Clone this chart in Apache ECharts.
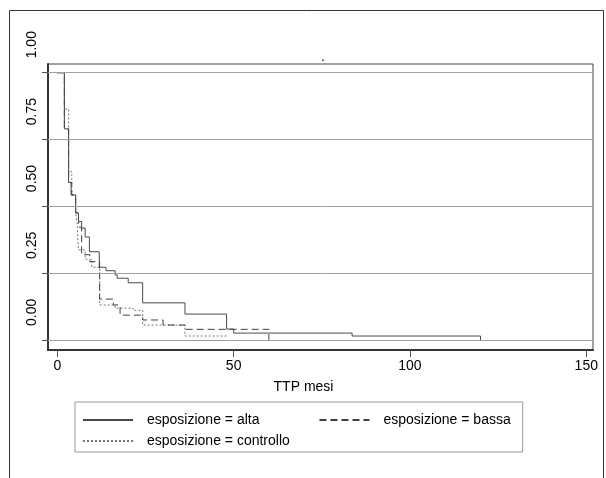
<!DOCTYPE html>
<html>
<head>
<meta charset="utf-8">
<script src="https://cdn.jsdelivr.net/npm/echarts@6/dist/echarts.min.js"></script>
<style>
html,body{margin:0;padding:0;background:#fff;}
#c{width:606px;height:478px;}
</style>
</head>
<body>
<div id="c"></div>
<script>
// ---- data (time in months, survival probability) ----
const seriesNames = ['esposizione = alta', 'esposizione = bassa', 'esposizione = controllo'];

const tAlta = [0, 2.0, 3.2, 3.9, 5.2, 6.0, 6.9, 7.9, 9.1, 11.9, 13.8, 16.4, 17.0, 20.1, 24.2, 36.2, 48.0, 50.0, 83.6, 120.0];
const vAlta = [1.0, 0.79, 0.59, 0.543, 0.476, 0.444, 0.419, 0.386, 0.331, 0.273, 0.26, 0.244, 0.232, 0.215, 0.14, 0.098, 0.042, 0.027, 0.016, 0.0];

const tBassa = [0, 2.0, 3.2, 4.1, 5.2, 6.0, 6.9, 9.2, 12.0, 15.9, 17.8, 24.2, 30.0, 36.2, 60.0];
const vBassa = [1.0, 0.79, 0.59, 0.543, 0.476, 0.423, 0.32, 0.294, 0.154, 0.132, 0.094, 0.076, 0.057, 0.041, 0.0];

const tControllo = [0, 2.0, 3.2, 4.1, 5.2, 5.6, 6.0, 7.9, 9.75, 12.0, 16.4, 21.5, 24.2, 36.2, 48.0];
const vControllo = [1.0, 0.864, 0.63, 0.543, 0.476, 0.44, 0.338, 0.303, 0.273, 0.132, 0.12, 0.112, 0.057, 0.016, 0.016];

const xTicks = [0, 50, 100, 150];
const yTicks = [0, 0.25, 0.5, 0.75, 1];
const xTitle = 'TTP mesi';
const chartTitle = '.';

// ---- build ----
const zip = (t, v) => t.map((x, i) => [x, v[i]]);
const FONT = '"Liberation Sans", Arial, sans-serif';
const chart = echarts.init(document.getElementById('c'), null, {renderer: 'canvas'});

const legendCommon = {
  orient: 'horizontal', itemWidth: 50, itemHeight: 14,
  itemStyle: {opacity: 0, borderWidth: 0},
  textStyle: {fontSize: 14, color: '#000', fontFamily: FONT, padding: [0, 0, 0, 9]}
};

chart.setOption({
  animation: false,
  backgroundColor: '#ffffff',
  textStyle: {fontFamily: FONT},
  title: {
    text: chartTitle, left: 316, top: 45,
    textStyle: {fontSize: 14, color: '#000', fontWeight: 'normal', fontFamily: FONT}
  },
  graphic: [{
    type: 'rect', silent: true,
    shape: {x: 9.5, y: 10.5, width: 594, height: 520},
    style: {fill: 'none', stroke: '#333', lineWidth: 1}
  }],
  grid: {left: 48, right: 13, top: 64, bottom: 128, show: true, borderColor: '#444', borderWidth: 1, containLabel: false},
  xAxis: {
    type: 'value', min: -2.64, max: 151.9,
    name: xTitle, nameLocation: 'middle', nameGap: 30,
    nameTextStyle: {fontSize: 14, color: '#000', fontFamily: FONT, padding: [0, 34, 0, 0]},
    axisLine: {show: true, onZero: false, lineStyle: {color: '#333', width: 2}},
    axisTick: {show: true, length: 7, customValues: xTicks, lineStyle: {color: '#555'}},
    axisLabel: {customValues: xTicks, fontSize: 14, color: '#000', margin: 9, fontFamily: FONT},
    splitLine: {show: false}
  },
  yAxis: {
    type: 'value', min: -0.0362, max: 1.0325,
    axisLine: {show: true, onZero: false, lineStyle: {color: '#333', width: 2}},
    axisTick: {show: true, length: 6, customValues: yTicks, lineStyle: {color: '#555'}},
    axisLabel: {
      customValues: yTicks, rotate: 90, fontSize: 14, color: '#000', margin: 9,
      align: 'center', verticalAlign: 'bottom', padding: [0, 0, 0, 56], fontFamily: FONT,
      formatter: v => v.toFixed(2)
    },
    splitLine: {show: false}
  },
  legend: [Object.assign({}, legendCommon, {
    data: [seriesNames[0], seriesNames[1]],
    left: 75, top: 402,
    padding: [11, 12, 25, 7], itemGap: 59,
    borderColor: '#999', borderWidth: 1
  }), Object.assign({}, legendCommon, {
    data: [seriesNames[2]],
    left: 82, top: 434, padding: 0
  })],
  series: [
    {
      name: 'grid', type: 'line', data: [], z: 1, silent: true,
      markLine: {
        silent: true, symbol: 'none', label: {show: false},
        lineStyle: {color: '#a0a0a0', type: 'solid', width: 1},
        data: yTicks.map(v => ({yAxis: v}))
      }
    },
    {
      name: seriesNames[0], type: 'line', step: 'end', showSymbol: false, symbol: 'none', z: 4,
      data: zip(tAlta, vAlta),
      lineStyle: {color: '#4a4a4a', width: 1, type: 'solid'},
      itemStyle: {color: '#4a4a4a'}
    },
    {
      name: seriesNames[1], type: 'line', step: 'end', showSymbol: false, symbol: 'none', z: 3,
      data: zip(tBassa, vBassa),
      lineStyle: {color: '#404040', width: 1, type: [7, 4]},
      itemStyle: {color: '#404040'}
    },
    {
      name: seriesNames[2], type: 'line', step: 'end', showSymbol: false, symbol: 'none', z: 2,
      data: zip(tControllo, vControllo),
      lineStyle: {color: '#777777', width: 1, type: [2, 2]},
      itemStyle: {color: '#777777'}
    }
  ]
});
</script>
</body>
</html>
